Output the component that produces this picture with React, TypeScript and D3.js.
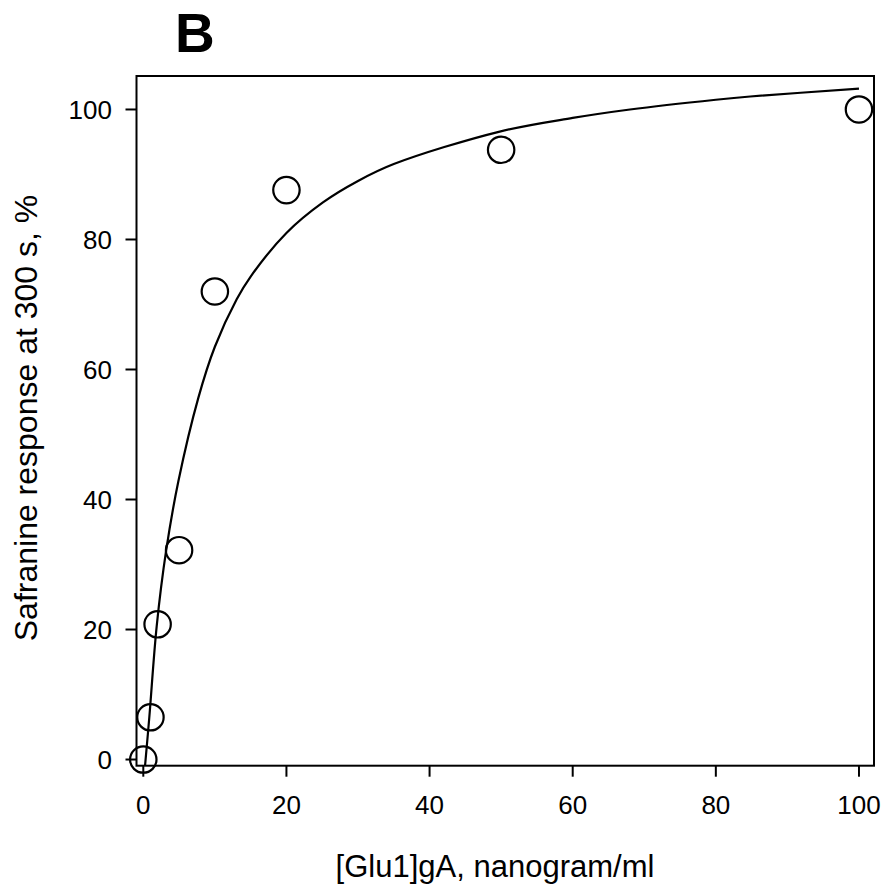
import React from "react";
import * as d3 from "d3";

const concentrations = [0, 1, 2, 5, 10, 20, 50, 100];
const responses = [0, 6.5, 20.8, 32.2, 72.0, 87.6, 93.8, 100.0];

const fitX = [0.24, 0.84, 1.87, 3.2, 4.9, 7.68, 10, 13.05, 15, 20, 25.1, 30, 35, 49.8, 60, 68, 80, 84.8, 100];
const fitY = [-1, 6.5, 20.5, 32.2, 42.8, 55.6, 63.5, 70.8, 74.3, 81.0, 85.7, 89.0, 91.6, 96.6, 98.7, 100.0, 101.5, 102.0, 103.2];

const xTicks = [0, 20, 40, 60, 80, 100];
const yTicks = [0, 20, 40, 60, 80, 100];

const panelLabel = "B";
const xTitle = "[Glu1]gA, nanogram/ml";
const yTitle = "Safranine response at 300 s, %";

export default function App() {
  const W = 885, H = 884;
  const left = 136.5, right = 874, top = 76, bottom = 765.7;
  const x = d3.scaleLinear().domain([-0.95, 102.1]).range([left, right]);
  const y = d3.scaleLinear().domain([-0.95, 105.15]).range([bottom, top]);
  const font = "'Liberation Sans', Arial, sans-serif";

  const line = d3
    .line<number>()
    .x((_, i) => x(fitX[i]))
    .y((_, i) => y(fitY[i]))
    .curve(d3.curveCatmullRom.alpha(0.5));

  return (
    <svg
      width={W}
      height={H}
      style={{ position: "absolute", left: 0, top: 0, background: "#fff" }}
      fontFamily={font}
    >
      <rect x={0} y={0} width={W} height={H} fill="#fff" />
      <text x={175} y={52} fontSize={55} fontWeight="bold" fill="#000">
        {panelLabel}
      </text>
      <path d={line(fitX) || ""} fill="none" stroke="#000" strokeWidth={2.2} />
      {concentrations.map((c, i) => (
        <circle
          key={i}
          cx={x(c)}
          cy={y(responses[i])}
          r={13.2}
          fill="none"
          stroke="#000"
          strokeWidth={2.2}
        />
      ))}
      <rect
        x={left}
        y={top}
        width={right - left}
        height={bottom - top}
        fill="none"
        stroke="#000"
        strokeWidth={2}
      />
      {xTicks.map((t) => (
        <g key={"x" + t}>
          <line x1={x(t)} x2={x(t)} y1={bottom} y2={bottom + 11} stroke="#000" strokeWidth={2} />
          <text x={x(t)} y={814} fontSize={26} textAnchor="middle" fill="#000">
            {t}
          </text>
        </g>
      ))}
      {yTicks.map((t) => (
        <g key={"y" + t}>
          <line x1={left - 11} x2={left} y1={y(t)} y2={y(t)} stroke="#000" strokeWidth={2} />
          <text x={112} y={y(t) + 9.3} fontSize={26} textAnchor="end" fill="#000">
            {t}
          </text>
        </g>
      ))}
      <text x={495} y={877} fontSize={31} textAnchor="middle" fill="#000">
        {xTitle}
      </text>
      <text
        transform={`translate(37,418) rotate(-90)`}
        fontSize={32}
        textAnchor="middle"
        fill="#000"
      >
        {yTitle}
      </text>
    </svg>
  );
}
